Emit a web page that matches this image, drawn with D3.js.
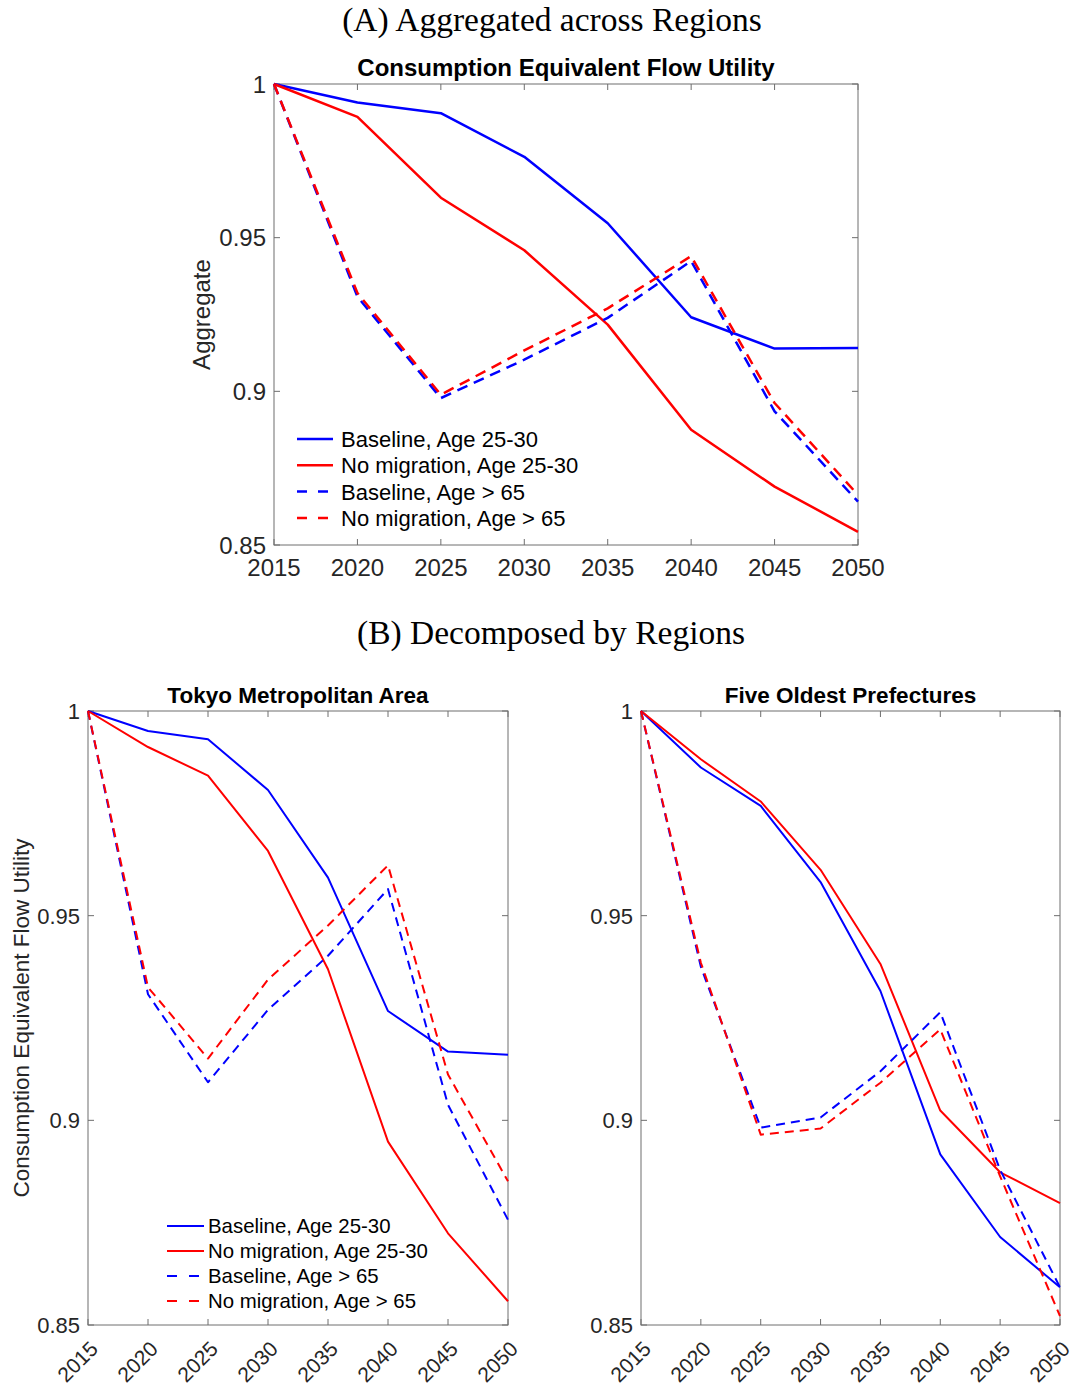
<!DOCTYPE html>
<html>
<head>
<meta charset="utf-8">
<script src="https://cdn.jsdelivr.net/npm/d3@7"></script>
<style>
  html, body { margin: 0; padding: 0; background: #fff; }
  svg { display: block; }
  .sans { font-family: "Liberation Sans", Arial, Helvetica, sans-serif; }
  .serif { font-family: "Liberation Serif", "DejaVu Serif", serif; }
</style>
</head>
<body>
<script>
// Years on the horizontal axis
const years = [2015, 2020, 2025, 2030, 2035, 2040, 2045, 2050];
const yTicks = [0.85, 0.9, 0.95, 1];

const seriesNames = [
  "Baseline, Age 25-30",
  "No migration, Age 25-30",
  "Baseline, Age > 65",
  "No migration, Age > 65"
];

// (A) Aggregated across regions
const aggBaselineYoung = [1.0, 0.9940, 0.9905, 0.9763, 0.9547, 0.9241, 0.9139, 0.9141];
const aggNoMigYoung    = [1.0, 0.9893, 0.9630, 0.9459, 0.9217, 0.8875, 0.8690, 0.8543];
const aggBaselineOld   = [1.0, 0.9308, 0.8978, 0.9103, 0.9239, 0.9424, 0.8935, 0.8641];
const aggNoMigOld      = [1.0, 0.9320, 0.8989, 0.9133, 0.9270, 0.9440, 0.8962, 0.8663];

// (B) Tokyo Metropolitan Area
const tokyoBaselineYoung = [1.0, 0.9951, 0.9931, 0.9807, 0.9593, 0.9267, 0.9168, 0.9160];
const tokyoNoMigYoung    = [1.0, 0.9912, 0.9842, 0.9658, 0.9369, 0.8948, 0.8724, 0.8558];
const tokyoBaselineOld   = [1.0, 0.9308, 0.9093, 0.9270, 0.9402, 0.9565, 0.9038, 0.8757];
const tokyoNoMigOld      = [1.0, 0.9325, 0.9151, 0.9344, 0.9476, 0.9623, 0.9112, 0.8851];

// (B) Five oldest prefectures
const oldestBaselineYoung = [1.0, 0.9862, 0.9768, 0.9582, 0.9316, 0.8917, 0.8715, 0.8592];
const oldestNoMigYoung    = [1.0, 0.9882, 0.9779, 0.9612, 0.9382, 0.9024, 0.8873, 0.8798];
const oldestBaselineOld   = [1.0, 0.9375, 0.8982, 0.9007, 0.9120, 0.9264, 0.8879, 0.8592];
const oldestNoMigOld      = [1.0, 0.9385, 0.8965, 0.8980, 0.9092, 0.9222, 0.8863, 0.8522];

const seriesColors = ["#0000ff", "#ff0000", "#0000ff", "#ff0000"];
const seriesDashed = [false, false, true, true];

const W = 1074, H = 1387;
const svg = d3.select("body").append("svg")
  .attr("width", W).attr("height", H)
  .attr("viewBox", `0 0 ${W} ${H}`);
svg.append("rect").attr("width", W).attr("height", H).attr("fill", "#fff");

const axisColor = "#6e6e6e";
const textColor = "#262626";

function drawPanel(opt) {
  const { left, right, top, bottom, series, title, yLabel, rotateX,
          tickFont, xTickFont, titleFont, yLabelFont, yLabelX, lineWidth, dash,
          legend } = opt;
  const x = d3.scaleLinear().domain([2015, 2050]).range([left, right]);
  const y = d3.scaleLinear().domain([0.85, 1]).range([bottom, top]);
  const g = svg.append("g").attr("class", "sans");
  const tickLen = 6;

  // Frame with inward ticks on all four sides
  g.append("rect")
    .attr("x", left).attr("y", top)
    .attr("width", right - left).attr("height", bottom - top)
    .attr("fill", "none").attr("stroke", axisColor).attr("stroke-width", 1);

  const ticks = g.append("g").attr("stroke", axisColor).attr("stroke-width", 1);
  years.forEach(v => {
    ticks.append("line").attr("x1", x(v)).attr("x2", x(v)).attr("y1", bottom).attr("y2", bottom - tickLen);
    ticks.append("line").attr("x1", x(v)).attr("x2", x(v)).attr("y1", top).attr("y2", top + tickLen);
  });
  yTicks.forEach(v => {
    ticks.append("line").attr("y1", y(v)).attr("y2", y(v)).attr("x1", left).attr("x2", left + tickLen);
    ticks.append("line").attr("y1", y(v)).attr("y2", y(v)).attr("x1", right).attr("x2", right - tickLen);
  });

  // Y tick labels
  const fmt = d3.format("~g");
  g.selectAll(".ytl").data(yTicks).join("text")
    .attr("x", left - 8).attr("y", d => y(d))
    .attr("dy", "0.36em")
    .attr("text-anchor", "end")
    .attr("font-size", tickFont)
    .attr("fill", textColor)
    .text(d => fmt(d));

  // X tick labels
  if (rotateX) {
    g.selectAll(".xtl").data(years).join("text")
      .attr("transform", d => `translate(${x(d) + 6},${bottom + 20}) rotate(-45)`)
      .attr("dy", "0.36em")
      .attr("text-anchor", "end")
      .attr("font-size", xTickFont)
      .attr("fill", textColor)
      .text(d => d);
  } else {
    g.selectAll(".xtl").data(years).join("text")
      .attr("x", d => x(d)).attr("y", bottom + 31)
      .attr("text-anchor", "middle")
      .attr("font-size", xTickFont)
      .attr("fill", textColor)
      .text(d => d);
  }

  // Title
  g.append("text")
    .attr("x", (left + right) / 2).attr("y", top - 8)
    .attr("text-anchor", "middle")
    .attr("font-size", titleFont).attr("font-weight", "bold")
    .attr("fill", "#000")
    .text(title);

  // Y axis label
  if (yLabel) {
    g.append("text")
      .attr("transform", `translate(${yLabelX},${(top + bottom) / 2}) rotate(-90)`)
      .attr("text-anchor", "middle")
      .attr("dy", "0.36em")
      .attr("font-size", yLabelFont)
      .attr("fill", textColor)
      .text(yLabel);
  }

  // Series lines
  const line = d3.line().x((d, i) => x(years[i])).y(d => y(d));
  series.forEach((vals, k) => {
    g.append("path")
      .datum(vals)
      .attr("d", line)
      .attr("fill", "none")
      .attr("stroke", seriesColors[k])
      .attr("stroke-width", lineWidth)
      .attr("stroke-linejoin", "round")
      .attr("stroke-dasharray", seriesDashed[k] ? dash : null);
  });

  // Legend
  if (legend) {
    const lg = g.append("g");
    seriesNames.forEach((name, k) => {
      const ly = legend.y + k * legend.step;
      lg.append("line")
        .attr("x1", legend.x).attr("x2", legend.x + legend.len)
        .attr("y1", ly).attr("y2", ly)
        .attr("stroke", seriesColors[k])
        .attr("stroke-width", lineWidth)
        .attr("stroke-dasharray", seriesDashed[k] ? legend.dash : null);
      lg.append("text")
        .attr("x", legend.x + legend.len + legend.gap).attr("y", ly)
        .attr("dy", "0.36em")
        .attr("font-size", legend.font)
        .attr("fill", "#000")
        .text(name);
    });
  }
}

// Section headings
svg.append("text").attr("class", "serif")
  .attr("x", 552).attr("y", 31).attr("text-anchor", "middle")
  .attr("font-size", 33.5).attr("fill", "#000")
  .text("(A) Aggregated across Regions");
svg.append("text").attr("class", "serif")
  .attr("x", 551).attr("y", 644).attr("text-anchor", "middle")
  .attr("font-size", 33.5).attr("fill", "#000")
  .text("(B) Decomposed by Regions");

drawPanel({
  left: 274, right: 858, top: 84, bottom: 545,
  series: [aggBaselineYoung, aggNoMigYoung, aggBaselineOld, aggNoMigOld],
  title: "Consumption Equivalent Flow Utility",
  yLabel: "Aggregate", yLabelX: 201,
  rotateX: false, tickFont: 24, xTickFont: 24, titleFont: 24, yLabelFont: 24,
  lineWidth: 2.5, dash: "11,7",
  legend: { x: 297, y: 439, step: 26.3, len: 36, gap: 8, font: 22, dash: "10,11" }
});

drawPanel({
  left: 88, right: 508, top: 711, bottom: 1325,
  series: [tokyoBaselineYoung, tokyoNoMigYoung, tokyoBaselineOld, tokyoNoMigOld],
  title: "Tokyo Metropolitan Area",
  yLabel: "Consumption Equivalent Flow Utility", yLabelX: 21,
  rotateX: true, tickFont: 22, xTickFont: 21, titleFont: 22.5, yLabelFont: 22.5,
  lineWidth: 2, dash: "9,6",
  legend: { x: 167, y: 1226, step: 25, len: 37, gap: 4, font: 20.4, dash: "10,12" }
});

drawPanel({
  left: 641, right: 1060, top: 711, bottom: 1325,
  series: [oldestBaselineYoung, oldestNoMigYoung, oldestBaselineOld, oldestNoMigOld],
  title: "Five Oldest Prefectures",
  yLabel: null,
  rotateX: true, tickFont: 22, xTickFont: 21, titleFont: 22.5, yLabelFont: 22,
  lineWidth: 2, dash: "9,6",
  legend: null
});
</script>
</body>
</html>
